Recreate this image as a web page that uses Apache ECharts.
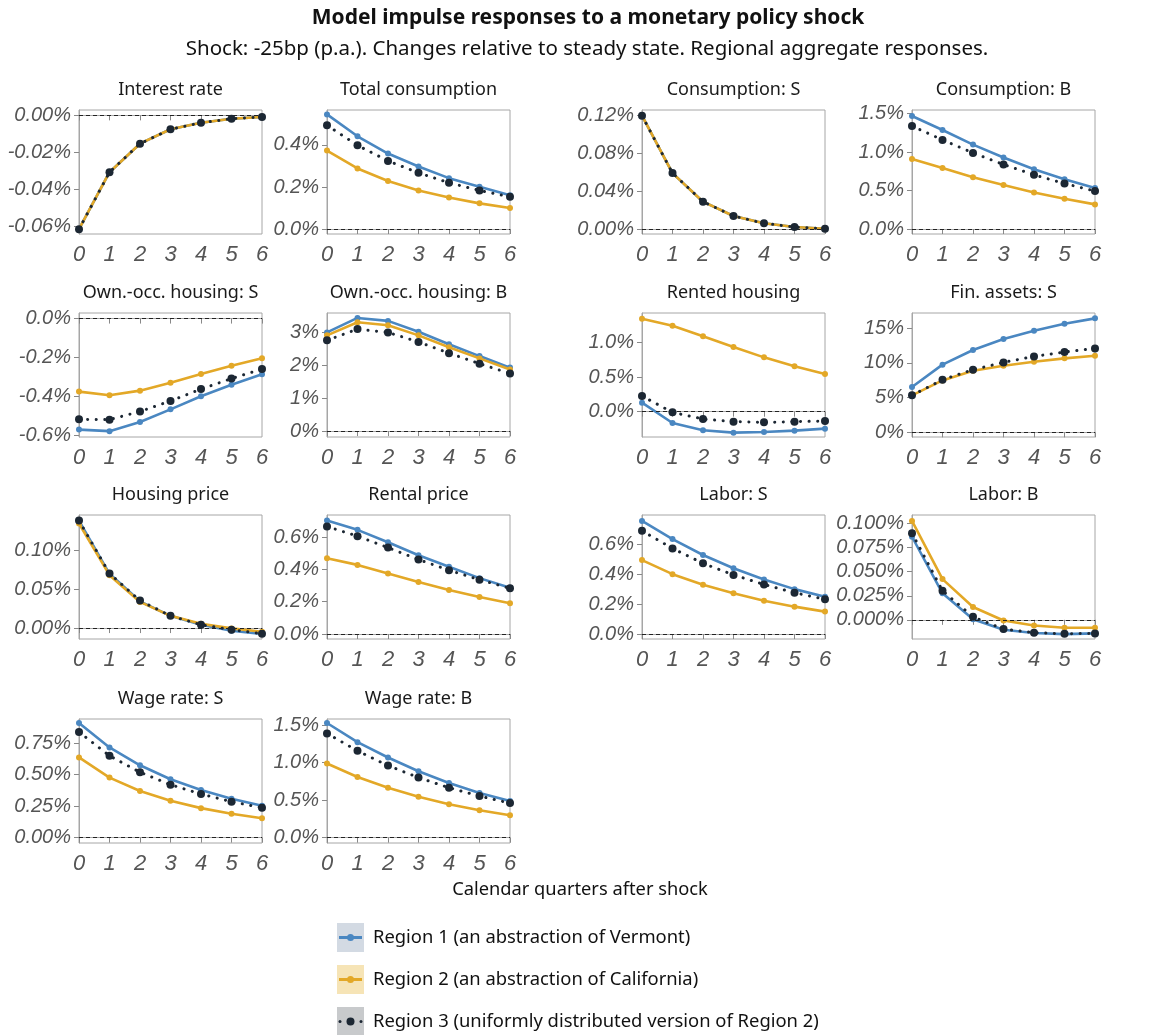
<!DOCTYPE html>
<html><head><meta charset="utf-8">
<script src="https://cdn.jsdelivr.net/npm/echarts@6/dist/echarts.min.js"></script>
<style>html,body{margin:0;padding:0;background:#fff}#c{width:1159px;height:1035px}</style>
</head><body><div id="c"></div><script>
// ---------------- DATA ----------------
const quarters = [0, 1, 2, 3, 4, 5, 6];
const regionNames = [
  'Region 1 (an abstraction of Vermont)',
  'Region 2 (an abstraction of California)',
  'Region 3 (uniformly distributed version of Region 2)'
];
const panelTitles = [
  'Interest rate', 'Total consumption', 'Consumption: S', 'Consumption: B',
  'Own.-occ. housing: S', 'Own.-occ. housing: B', 'Rented housing', 'Fin. assets: S',
  'Housing price', 'Rental price', 'Labor: S', 'Labor: B',
  'Wage rate: S', 'Wage rate: B'
];
// y-axis tick values (percent)
const yTicks = [
  [-0.06, -0.04, -0.02, 0], [0, 0.2, 0.4], [0, 0.04, 0.08, 0.12], [0, 0.5, 1.0, 1.5],
  [-0.6, -0.4, -0.2, 0], [0, 1, 2, 3], [0, 0.5, 1.0], [0, 5, 10, 15],
  [0, 0.05, 0.10], [0, 0.2, 0.4, 0.6], [0, 0.2, 0.4, 0.6], [0, 0.025, 0.05, 0.075, 0.1],
  [0, 0.25, 0.5, 0.75], [0, 0.5, 1.0, 1.5]
];
const yDecimals = [2, 1, 2, 1, 1, 0, 1, 0, 2, 1, 1, 3, 2, 1];
const yRanges = [
  [-0.0641, 0.0029], [-0.0237, 0.566], [-0.0053, 0.1256], [-0.065, 1.548],
  [-0.608, 0.0287], [-0.18, 3.59], [-0.367, 1.43], [-0.67, 17.16],
  [-0.014, 0.1449], [-0.031, 0.737], [-0.033, 0.795], [-0.0199, 0.1089],
  [-0.0426, 0.941], [-0.071, 1.58]
];

// Series values (percent), per panel and region
const interestRate_R1 = [-0.0615, -0.0307, -0.0153, -0.0075, -0.0040, -0.0018, -0.0009];
const interestRate_R2 = [-0.0615, -0.0307, -0.0153, -0.0075, -0.0040, -0.0018, -0.0009];
const interestRate_R3 = [-0.0615, -0.0307, -0.0153, -0.0075, -0.0040, -0.0018, -0.0009];

const totalCons_R1 = [0.545, 0.441, 0.359, 0.297, 0.242, 0.201, 0.161];
const totalCons_R2 = [0.373, 0.288, 0.228, 0.183, 0.150, 0.122, 0.100];
const totalCons_R3 = [0.493, 0.398, 0.324, 0.267, 0.220, 0.183, 0.153];

const consS_R1 = [0.1196, 0.059, 0.0288, 0.0137, 0.006, 0.0021, 0.0003];
const consS_R2 = [0.1196, 0.059, 0.0288, 0.0137, 0.006, 0.0021, 0.0003];
const consS_R3 = [0.1196, 0.059, 0.0288, 0.0137, 0.006, 0.0021, 0.0003];

const consB_R1 = [1.47, 1.288, 1.098, 0.93, 0.778, 0.648, 0.532];
const consB_R2 = [0.912, 0.795, 0.674, 0.571, 0.476, 0.393, 0.32];
const consB_R3 = [1.34, 1.159, 0.99, 0.839, 0.705, 0.592, 0.493];

const ownHousS_R1 = [-0.570, -0.578, -0.531, -0.466, -0.399, -0.340, -0.286];
const ownHousS_R2 = [-0.375, -0.394, -0.370, -0.330, -0.284, -0.242, -0.204];
const ownHousS_R3 = [-0.517, -0.519, -0.477, -0.423, -0.362, -0.308, -0.259];

const ownHousB_R1 = [3.0, 3.44, 3.35, 3.02, 2.64, 2.28, 1.93];
const ownHousB_R2 = [2.91, 3.31, 3.22, 2.91, 2.55, 2.21, 1.87];
const ownHousB_R3 = [2.76, 3.10, 3.0, 2.71, 2.37, 2.05, 1.75];

const rentHous_R1 = [0.13, -0.164, -0.27, -0.304, -0.295, -0.275, -0.246];
const rentHous_R2 = [1.348, 1.246, 1.092, 0.937, 0.787, 0.657, 0.546];
const rentHous_R3 = [0.227, -0.01, -0.106, -0.145, -0.155, -0.145, -0.135];

const finAssetsS_R1 = [6.52, 9.73, 11.84, 13.42, 14.61, 15.62, 16.39];
const finAssetsS_R2 = [5.32, 7.47, 8.86, 9.58, 10.16, 10.64, 11.02];
const finAssetsS_R3 = [5.32, 7.57, 9.01, 10.06, 10.92, 11.55, 12.07];

const housPrice_R1 = [0.1377, 0.0695, 0.0343, 0.0157, 0.0042, -0.0034, -0.0076];
const housPrice_R2 = [0.134, 0.0678, 0.0335, 0.0157, 0.0055, -0.0004, -0.0047];
const housPrice_R3 = [0.1377, 0.0699, 0.0352, 0.0157, 0.0042, -0.002, -0.0072];

const rentPrice_R1 = [0.703, 0.645, 0.568, 0.488, 0.416, 0.346, 0.287];
const rentPrice_R2 = [0.469, 0.428, 0.375, 0.322, 0.273, 0.229, 0.19];
const rentPrice_R3 = [0.666, 0.606, 0.535, 0.461, 0.395, 0.336, 0.283];

const laborS_R1 = [0.755, 0.634, 0.528, 0.439, 0.364, 0.300, 0.249];
const laborS_R2 = [0.494, 0.40, 0.329, 0.272, 0.223, 0.183, 0.15];
const laborS_R3 = [0.689, 0.572, 0.472, 0.395, 0.331, 0.276, 0.232];

const laborB_R1 = [0.0863, 0.0275, 0.0007, -0.0103, -0.0137, -0.0148, -0.0141];
const laborB_R2 = [0.1027, 0.0423, 0.0134, -0.0007, -0.0058, -0.0082, -0.0082];
const laborB_R3 = [0.090, 0.0302, 0.0031, -0.0096, -0.0134, -0.0144, -0.0141];

const wageS_R1 = [0.91, 0.715, 0.574, 0.463, 0.378, 0.309, 0.253];
const wageS_R2 = [0.636, 0.476, 0.370, 0.293, 0.234, 0.189, 0.154];
const wageS_R3 = [0.838, 0.649, 0.519, 0.420, 0.346, 0.285, 0.237];

const wageB_R1 = [1.527, 1.272, 1.067, 0.884, 0.728, 0.594, 0.487];
const wageB_R2 = [0.987, 0.808, 0.665, 0.545, 0.446, 0.366, 0.299];
const wageB_R3 = [1.388, 1.156, 0.96, 0.80, 0.665, 0.554, 0.46];

const panelSeries = [
  [interestRate_R1, interestRate_R2, interestRate_R3],
  [totalCons_R1, totalCons_R2, totalCons_R3],
  [consS_R1, consS_R2, consS_R3],
  [consB_R1, consB_R2, consB_R3],
  [ownHousS_R1, ownHousS_R2, ownHousS_R3],
  [ownHousB_R1, ownHousB_R2, ownHousB_R3],
  [rentHous_R1, rentHous_R2, rentHous_R3],
  [finAssetsS_R1, finAssetsS_R2, finAssetsS_R3],
  [housPrice_R1, housPrice_R2, housPrice_R3],
  [rentPrice_R1, rentPrice_R2, rentPrice_R3],
  [laborS_R1, laborS_R2, laborS_R3],
  [laborB_R1, laborB_R2, laborB_R3],
  [wageS_R1, wageS_R2, wageS_R3],
  [wageB_R1, wageB_R2, wageB_R3]
];

// ---------------- LAYOUT / STYLE ----------------
const colLeft = [79, 327, 642, 912];
const rowTop = [110, 313, 515, 719];
const plotW = 183, plotH = 124;
const BLUE = '#4a87c1', GOLD = '#e3a827', DARK = '#1c2733';
const TEXT_FONT = '"Noto Sans", "Open Sans", sans-serif';
const TICK_FONT = '"Liberation Sans", Arial, sans-serif';

const grids = [], xAxes = [], yAxes = [], series = [], graphics = [];

panelTitles.forEach((title, i) => {
  const c = i % 4, r = Math.floor(i / 4);
  const left = colLeft[c], top = rowTop[r];
  grids.push({ left: left, top: top, width: plotW, height: plotH, show: true,
    borderColor: '#a6a6a6', borderWidth: 1, backgroundColor: 'transparent' });
  xAxes.push({ type: 'value', gridIndex: i, min: 0, max: 6, interval: 1,
    axisLine: { show: true, lineStyle: { color: '#a6a6a6' } },
    axisTick: { show: true, inside: false, length: 5, lineStyle: { color: '#888' } },
    splitLine: { show: false },
    axisLabel: { margin: 10, fontFamily: TICK_FONT, fontStyle: 'italic', fontSize: 22, color: '#555' } });
  const dec = yDecimals[i];
  yAxes.push({ type: 'value', gridIndex: i, min: yRanges[i][0], max: yRanges[i][1],
    axisLine: { show: true, lineStyle: { color: '#a6a6a6' } },
    axisTick: { show: true, inside: false, length: 5, lineStyle: { color: '#888' }, customValues: yTicks[i] },
    splitLine: { show: false },
    axisLabel: { margin: 8, fontFamily: TICK_FONT, fontStyle: 'italic', fontSize: 20, color: '#555',
      customValues: yTicks[i], formatter: v => Number(v).toFixed(dec) + '%' } });
  graphics.push({ type: 'text', x: left + plotW / 2, y: top - 20,
    style: { text: title, font: '18px ' + TEXT_FONT, fill: '#1a1a1a', textAlign: 'center', textVerticalAlign: 'middle' } });

  const [s1, s2, s3] = panelSeries[i];
  const pairs = arr => quarters.map((q, k) => [q, arr[k]]);
  series.push({ type: 'line', name: regionNames[0], xAxisIndex: i, yAxisIndex: i, data: pairs(s1),
    symbol: 'circle', symbolSize: 6, itemStyle: { color: BLUE }, lineStyle: { color: BLUE, width: 2.6 },
    animation: false, z: 3,
    markLine: { silent: true, symbol: 'none', animation: false, label: { show: false },
      lineStyle: { color: '#222', type: [4, 3], width: 1 }, data: [{ yAxis: 0 }] } });
  series.push({ type: 'line', name: regionNames[1], xAxisIndex: i, yAxisIndex: i, data: pairs(s2),
    symbol: 'circle', symbolSize: 6, itemStyle: { color: GOLD }, lineStyle: { color: GOLD, width: 2.6 },
    animation: false, z: 4 });
  series.push({ type: 'line', name: regionNames[2], xAxisIndex: i, yAxisIndex: i, data: pairs(s3),
    symbol: 'circle', symbolSize: 8, itemStyle: { color: DARK },
    lineStyle: { color: DARK, width: 3, type: [0.1, 8.5], cap: 'round' },
    animation: false, z: 5 });
});

// Titles
graphics.push({ type: 'text', x: 588, y: 18,
  style: { text: 'Model impulse responses to a monetary policy shock', font: 'bold 21px ' + TEXT_FONT,
    fill: '#111', textAlign: 'center', textVerticalAlign: 'middle' } });
graphics.push({ type: 'text', x: 587, y: 49,
  style: { text: 'Shock: -25bp (p.a.). Changes relative to steady state. Regional aggregate responses.',
    font: '20.5px ' + TEXT_FONT, fill: '#111', textAlign: 'center', textVerticalAlign: 'middle' } });
graphics.push({ type: 'text', x: 580, y: 890,
  style: { text: 'Calendar quarters after shock', font: '18.3px ' + TEXT_FONT,
    fill: '#111', textAlign: 'center', textVerticalAlign: 'middle' } });

// Legend
const keyBg = ['#d3dae3', '#f6e4b6', '#c8cacc'];
const keyTop = [923, 965, 1007];
const keyX = 337, keyW = 27, keyH = 29;
regionNames.forEach((nm, k) => {
  const cy = keyTop[k] + keyH / 2;
  graphics.push({ type: 'rect', shape: { x: keyX, y: keyTop[k], width: keyW, height: keyH }, style: { fill: keyBg[k] } });
  if (k < 2) {
    const col = k === 0 ? BLUE : GOLD;
    graphics.push({ type: 'line', shape: { x1: keyX + 2, y1: cy, x2: keyX + keyW - 2, y2: cy }, style: { stroke: col, lineWidth: 3 } });
    graphics.push({ type: 'circle', shape: { cx: keyX + keyW / 2, cy: cy, r: 3.5 }, style: { fill: col } });
  } else {
    graphics.push({ type: 'circle', shape: { cx: keyX + 3, cy: cy, r: 1.5 }, style: { fill: DARK } });
    graphics.push({ type: 'circle', shape: { cx: keyX + keyW / 2, cy: cy, r: 4 }, style: { fill: DARK } });
    graphics.push({ type: 'circle', shape: { cx: keyX + keyW - 3, cy: cy, r: 1.5 }, style: { fill: DARK } });
  }
  graphics.push({ type: 'text', x: 373, y: cy,
    style: { text: nm, font: '18.4px ' + TEXT_FONT, fill: '#111', textAlign: 'left', textVerticalAlign: 'middle' } });
});

const chart = echarts.init(document.getElementById('c'), null, { renderer: 'canvas' });
chart.setOption({
  animation: false,
  backgroundColor: '#fff',
  grid: grids, xAxis: xAxes, yAxis: yAxes, series: series,
  graphic: { elements: graphics }
});
</script></body></html>
